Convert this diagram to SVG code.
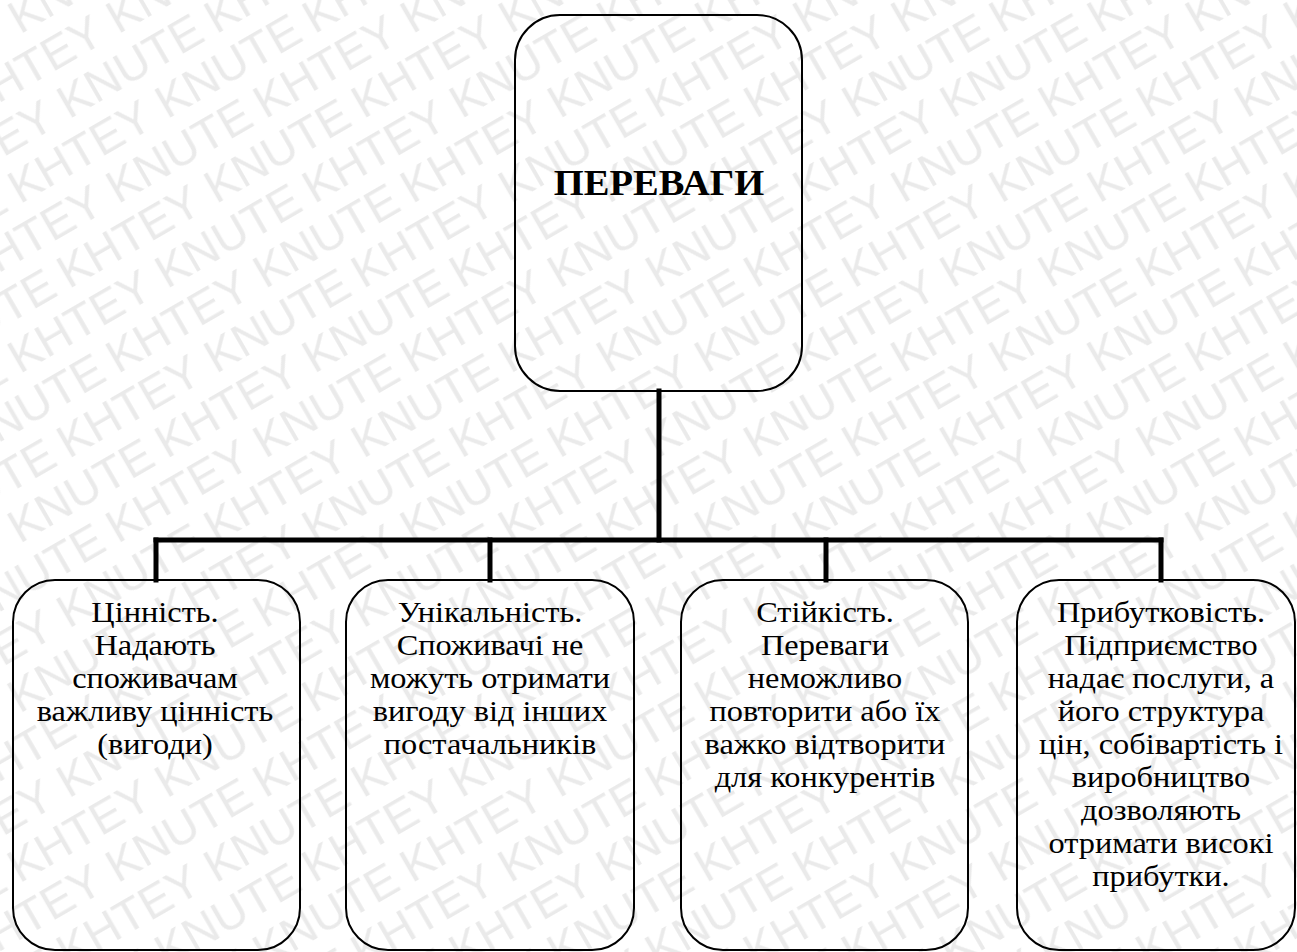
<svg xmlns="http://www.w3.org/2000/svg" width="1297" height="952" viewBox="0 0 1297 952">
<style>
.wm{font-family:"Liberation Sans",Arial,sans-serif;font-size:47px;fill:#eaeaea}
.box{fill:none;stroke:#000;stroke-width:2}
.conn{stroke:#000;stroke-width:5;fill:none;stroke-linecap:square}
.t{font-family:"Liberation Serif","Times New Roman",serif;font-size:28.5px;fill:#000;text-anchor:middle}
.title{font-family:"Liberation Serif","Times New Roman",serif;font-size:35px;font-weight:bold;fill:#000;text-anchor:middle}
</style>
<defs>
<pattern id="wmp" patternUnits="userSpaceOnUse" width="340" height="98" patternTransform="rotate(-30)">
<text class="wm" x="-170" y="40">KHTEY</text>
<text class="wm" x="0" y="40">KNUTE</text>
<text class="wm" x="170" y="40">KHTEY</text>
<text class="wm" x="340" y="40">KNUTE</text>
<text class="wm" x="-255" y="89">KNUTE</text>
<text class="wm" x="-85" y="89">KHTEY</text>
<text class="wm" x="85" y="89">KNUTE</text>
<text class="wm" x="255" y="89">KHTEY</text>
</pattern>
</defs>
<rect width="1297" height="952" fill="#fff"/>
<rect width="1297" height="952" fill="url(#wmp)"/>
<g id="connectors">
<line class="conn" x1="659" y1="391" x2="659" y2="540"/>
<line class="conn" x1="156" y1="540" x2="1161" y2="540"/>
<line class="conn" x1="156" y1="540" x2="156" y2="580"/>
<line class="conn" x1="490" y1="540" x2="490" y2="580"/>
<line class="conn" x1="826" y1="540" x2="826" y2="580"/>
<line class="conn" x1="1161" y1="540" x2="1161" y2="580"/>
</g>
<g id="node-top">
<rect class="box" x="515" y="15" width="287" height="376" rx="45"/>
<text class="title" x="659" y="195" transform="translate(659 0) scale(1.1 1) translate(-659 0)">ПЕРЕВАГИ</text>
</g>
<g id="node-1">
<rect class="box" x="13" y="580" width="287" height="370" rx="42"/>
<g transform="translate(155 0) scale(1.135 1) translate(-155 0)">
<text class="t" x="155" y="622">Цінність.</text>
<text class="t" x="155" y="655">Надають</text>
<text class="t" x="155" y="688">споживачам</text>
<text class="t" x="155" y="721">важливу цінність</text>
<text class="t" x="155" y="754">(вигоди)</text>
</g>
</g>
<g id="node-2">
<rect class="box" x="346" y="580" width="288" height="370" rx="42"/>
<g transform="translate(490 0) scale(1.135 1) translate(-490 0)">
<text class="t" x="490" y="622">Унікальність.</text>
<text class="t" x="490" y="655">Споживачі не</text>
<text class="t" x="490" y="688">можуть отримати</text>
<text class="t" x="490" y="721">вигоду від інших</text>
<text class="t" x="490" y="754">постачальників</text>
</g>
</g>
<g id="node-3">
<rect class="box" x="681" y="580" width="287" height="370" rx="42"/>
<g transform="translate(825 0) scale(1.135 1) translate(-825 0)">
<text class="t" x="825" y="622">Стійкість.</text>
<text class="t" x="825" y="655">Переваги</text>
<text class="t" x="825" y="688">неможливо</text>
<text class="t" x="825" y="721">повторити або їх</text>
<text class="t" x="825" y="754">важко відтворити</text>
<text class="t" x="825" y="787">для конкурентів</text>
</g>
</g>
<g id="node-4">
<rect class="box" x="1017" y="580" width="278" height="370" rx="42"/>
<g transform="translate(1161 0) scale(1.135 1) translate(-1161 0)">
<text class="t" x="1161" y="622">Прибутковість.</text>
<text class="t" x="1161" y="655">Підприємство</text>
<text class="t" x="1161" y="688">надає послуги, а</text>
<text class="t" x="1161" y="721">його структура</text>
<text class="t" x="1161" y="754">цін, собівартість і</text>
<text class="t" x="1161" y="787">виробництво</text>
<text class="t" x="1161" y="820">дозволяють</text>
<text class="t" x="1161" y="853">отримати високі</text>
<text class="t" x="1161" y="886">прибутки.</text>
</g>
</g>
</svg>
